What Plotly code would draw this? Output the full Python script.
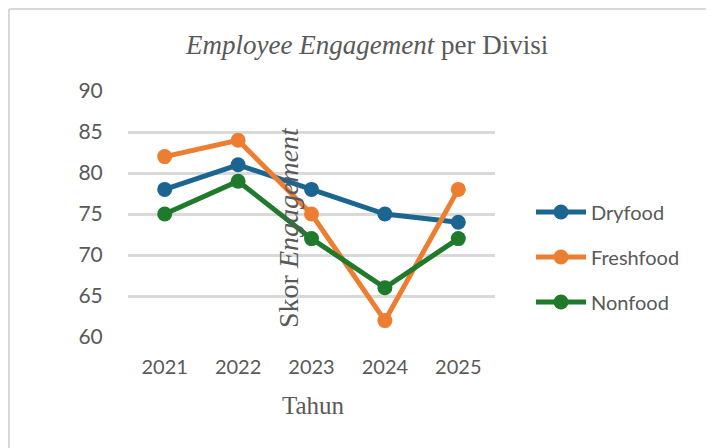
import plotly.graph_objects as go

years = ["2021", "2022", "2023", "2024", "2025"]
dryfood = [78, 81, 78, 75, 74]
freshfood = [82, 84, 75, 62, 78]
nonfood = [75, 79, 72, 66, 72]
series_names = ["Dryfood", "Freshfood", "Nonfood"]
series_colors = ["#1B6590", "#ED7D31", "#1F7A2C"]
y_ticks = [60, 65, 70, 75, 80, 85, 90]

W, H = 714, 448
DX, DY = 7, 8  # page offset seen in the screenshot
L, R, T, B = 127 - DX, 220 + DX, 91 - DY, 111 + DY
pw, ph = W - L - R, H - T - B

def px(x):
    return (x - DX - L) / pw

def py(y):
    return (H - B - (y - DY)) / ph

fig = go.Figure()
for name, vals, col in zip(series_names, [dryfood, freshfood, nonfood], series_colors):
    fig.add_trace(go.Scatter(
        x=years, y=vals, name=name, mode="lines+markers",
        line=dict(color=col, width=5),
        marker=dict(color=col, size=15),
        legendgroup=name,
    ))

serif = "Liberation Serif, Times New Roman, serif"
sans = "Lato, Calibri, sans-serif"

fig.update_layout(
    width=W, height=H,
    margin=dict(l=L, r=R, t=T, b=B),
    paper_bgcolor="white", plot_bgcolor="white",
    showlegend=True,
    legend=dict(
        x=px(530), y=py(257), xanchor="left", yanchor="middle",
        font=dict(family=sans, size=20, color="#595959"),
        tracegroupgap=16, itemwidth=50,
    ),
    xaxis=dict(
        type="category", range=[-0.5, 4.5],
        showgrid=False, showline=False, zeroline=False,
        tickfont=dict(family=sans, size=20, color="#595959"),
        ticks="outside", ticklen=12, tickcolor="rgba(0,0,0,0)",
    ),
    yaxis=dict(
        range=[60, 90], tickvals=y_ticks,
        showgrid=True, gridcolor="#D9D9D9", gridwidth=3,
        zeroline=False, showline=False,
        tickfont=dict(family=sans, size=21, color="#595959"),
        ticks="outside", ticklen=20, tickcolor="rgba(0,0,0,0)",
    ),
    annotations=[
        dict(text="<i>Employee Engagement</i> per Divisi", x=px(365), y=py(45),
             xref="paper", yref="paper", showarrow=False,
             xanchor="center", yanchor="middle",
             font=dict(family=serif, size=27, color="#595959")),
        dict(text="Tahun", x=px(312), y=py(405),
             xref="paper", yref="paper", showarrow=False,
             xanchor="center", yanchor="middle",
             font=dict(family=serif, size=25, color="#595959")),
        dict(text="Skor <i>Engagement</i>", x=px(287), y=py(228), textangle=-90,
             xref="paper", yref="paper", showarrow=False,
             xanchor="center", yanchor="middle",
             font=dict(family=serif, size=28, color="#595959")),
    ],
    shapes=[
        dict(type="line", xref="paper", yref="paper", x0=px(DX + 1), x1=px(800),
             y0=py(DY + 1), y1=py(DY + 1),
             line=dict(color="#D9D9D9", width=2)),
        dict(type="line", xref="paper", yref="paper", x0=px(DX + 1), x1=px(DX + 1),
             y0=py(DY + 1), y1=py(500),
             line=dict(color="#D9D9D9", width=2)),
    ],
)

fig.write_html("out.html")
